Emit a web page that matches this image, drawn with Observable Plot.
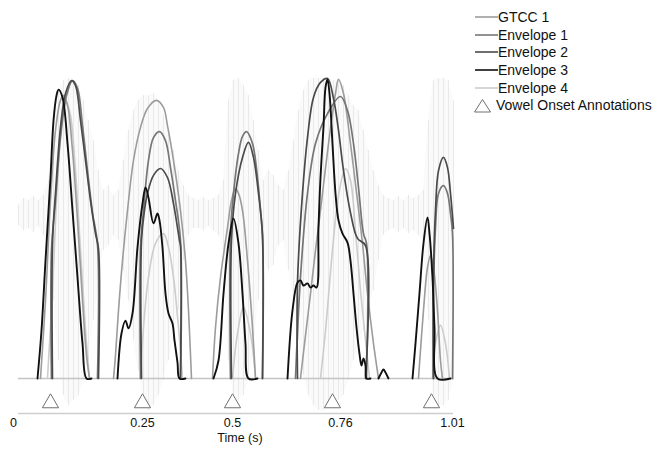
<!DOCTYPE html>
<html>
<head>
<meta charset="utf-8">
<script src="https://cdn.jsdelivr.net/npm/d3@7"></script>
<script src="https://cdn.jsdelivr.net/npm/@observablehq/plot@0.6"></script>
<style>
  body { margin: 0; background: #fff; }
  #wrap { position: relative; width: 659px; height: 449px; font-family: "Liberation Sans", Arial, sans-serif; }
  #legend { position: absolute; left: 474px; top: 8px; font-size: 14px; color: #111; }
  #legend .row { display: flex; align-items: center; height: 17.7px; white-space: nowrap; }
  #legend svg { display: block; }
</style>
</head>
<body>
<div id="wrap"><div id="legend"></div></div>
<script>
// Time axis (s): where the tick labels sit, and what they read
const tickTimes = [-0.0116, 0.2879, 0.4969, 0.7476, 1.0077];
const tickLabels = ["0", "0.25", "0.5", "0.76", "1.01"];

// Annotated vowel onsets (s)
const onsets = [0.0743, 0.2879, 0.4969, 0.7290, 0.9589];

// Speech waveform, peak amplitude above / below its centre, sampled along time (s)
const waveTime = [0,0.0116,0.0232,0.0348,0.0464,0.0580,0.0697,0.0813,0.0929,0.1045,0.1161,0.1277,0.1393,0.1509,0.1625,0.1741,0.1857,0.1974,0.2090,0.2206,0.2322,0.2438,0.2554,0.2670,0.2786,0.2902,0.3018,0.3134,0.3251,0.3367,0.3483,0.3599,0.3715,0.3831,0.3947,0.4063,0.4179,0.4295,0.4411,0.4528,0.4644,0.4760,0.4876,0.4992,0.5108,0.5224,0.5340,0.5456,0.5572,0.5688,0.5805,0.5921,0.6037,0.6153,0.6269,0.6385,0.6501,0.6617,0.6733,0.6849,0.6965,0.7081,0.7198,0.7314,0.7430,0.7546,0.7662,0.7778,0.7894,0.8010,0.8126,0.8242,0.8358,0.8475,0.8591,0.8707,0.8823,0.8939,0.9055,0.9171,0.9287,0.9403,0.9519,0.9635,0.9752,0.9868,0.9984,1.0100];
const waveHi = [0.027,0.05,0.043,0.057,0.043,0.06,0.11,0.31,0.41,0.443,0.45,0.443,0.427,0.377,0.31,0.243,0.143,0.077,0.093,0.06,0.077,0.177,0.277,0.343,0.377,0.393,0.393,0.4,0.377,0.327,0.277,0.21,0.143,0.093,0.06,0.05,0.043,0.053,0.043,0.05,0.06,0.11,0.377,0.443,0.45,0.427,0.393,0.31,0.21,0.11,0.143,0.127,0.093,0.077,0.143,0.243,0.343,0.41,0.443,0.45,0.45,0.45,0.45,0.443,0.443,0.427,0.393,0.36,0.343,0.277,0.21,0.143,0.093,0.06,0.05,0.043,0.057,0.043,0.06,0.05,0.06,0.077,0.31,0.443,0.45,0.45,0.443,0.377];
const waveLo = [-0.04,-0.057,-0.05,-0.063,-0.043,-0.073,-0.107,-0.29,-0.49,-0.607,-0.64,-0.623,-0.607,-0.557,-0.49,-0.357,-0.257,-0.123,-0.107,-0.073,-0.09,-0.19,-0.29,-0.423,-0.523,-0.623,-0.657,-0.64,-0.607,-0.557,-0.49,-0.423,-0.323,-0.157,-0.073,-0.05,-0.05,-0.057,-0.043,-0.057,-0.073,-0.123,-0.49,-0.607,-0.623,-0.607,-0.557,-0.457,-0.29,-0.157,-0.19,-0.173,-0.107,-0.09,-0.19,-0.29,-0.423,-0.54,-0.607,-0.64,-0.657,-0.657,-0.64,-0.623,-0.623,-0.607,-0.557,-0.49,-0.457,-0.39,-0.323,-0.257,-0.157,-0.073,-0.057,-0.05,-0.063,-0.05,-0.067,-0.057,-0.073,-0.09,-0.357,-0.607,-0.64,-0.64,-0.623,-0.557];

// Normalised feature curves: one [time, value] run per voiced stretch
const gtcc1 = [
  [[0.0511,0],[0.0627,0.26],[0.0743,0.593],[0.0859,0.827],[0.0975,0.927],[0.1045,0.943],[0.1138,0.91],[0.1254,0.76],[0.1370,0.527],[0.1486,0.26],[0.1579,0.077],[0.1648,0]],
  [[0.2206,0],[0.2252,0.077],[0.2322,0.227],[0.2415,0.393],[0.2531,0.56],[0.2670,0.727],[0.2833,0.837],[0.2995,0.9],[0.3204,0.927],[0.3367,0.903],[0.3459,0.843],[0.3599,0.727],[0.3761,0.56],[0.3877,0.393],[0.3947,0.227],[0.4017,0]],
  [[0.4504,0],[0.4574,0.17],[0.4690,0.337],[0.4853,0.503],[0.4945,0.593],[0.5038,0.633],[0.5108,0.617],[0.5201,0.56],[0.5317,0.393],[0.5433,0.17],[0.5503,0]],
  [[0.6547,0],[0.6663,0.143],[0.6780,0.283],[0.6896,0.427],[0.7012,0.56],[0.7198,0.783],[0.7360,0.95],[0.7430,0.997],[0.7546,0.95],[0.7708,0.783],[0.7871,0.593],[0.7987,0.45],[0.8103,0.283],[0.8242,0.117],[0.8358,0]],
  [[0.9287,0],[0.9403,0.227],[0.9496,0.37],[0.9566,0.41],[0.9635,0.37],[0.9728,0.227],[0.9798,0.06],[0.9844,0]]
];
const envelope1 = [
  [[0.0766,0],[0.0766,0.427],[0.0859,0.593],[0.0975,0.803],[0.1114,0.943],[0.1254,0.993],[0.1370,0.967],[0.1486,0.843],[0.1602,0.693],[0.1718,0.553],[0.1834,0.447],[0.1834,0]],
  [[0.2833,0],[0.2833,0.437],[0.2902,0.56],[0.3018,0.727],[0.3134,0.803],[0.3274,0.823],[0.3413,0.793],[0.3529,0.703],[0.3645,0.593],[0.3761,0.46],[0.3761,0]],
  [[0.4922,0],[0.4922,0.483],[0.4992,0.617],[0.5108,0.75],[0.5201,0.807],[0.5294,0.823],[0.5433,0.783],[0.5549,0.67],[0.5619,0.56],[0.5665,0.477],[0.5665,0]],
  [[0.6431,0],[0.6547,0.337],[0.6710,0.617],[0.6896,0.783],[0.7174,0.883],[0.7476,0.94],[0.7639,0.893],[0.7778,0.783],[0.7894,0.637],[0.8010,0.483],[0.8080,0.45],[0.8080,0]],
  [[0.9635,0],[0.9635,0.283],[0.9682,0.503],[0.9752,0.617],[0.9868,0.643],[0.9961,0.617],[1.0030,0.55],[1.0077,0.483],[1.0077,0]]
];
const envelope2 = [
  [[0.0789,0],[0.0789,0.453],[0.0859,0.617],[0.0975,0.837],[0.1091,0.95],[0.1231,0.993],[0.1323,0.977],[0.1440,0.86],[0.1556,0.727],[0.1672,0.593],[0.1788,0.483],[0.1857,0.433],[0.1857,0]],
  [[0.2856,0],[0.2856,0.46],[0.2925,0.56],[0.2995,0.617],[0.3134,0.677],[0.3297,0.7],[0.3459,0.67],[0.3599,0.583],[0.3738,0.46],[0.3761,0.443],[0.3761,0]],
  [[0.4945,0],[0.4945,0.46],[0.5038,0.617],[0.5201,0.737],[0.5340,0.787],[0.5456,0.737],[0.5572,0.617],[0.5665,0.477],[0.5665,0]],
  [[0.6478,0],[0.6478,0.32],[0.6594,0.617],[0.6710,0.803],[0.6849,0.937],[0.7012,0.987],[0.7174,1.0],[0.7314,0.933],[0.7430,0.827],[0.7546,0.693],[0.7708,0.553],[0.7871,0.467],[0.8057,0.443],[0.8057,0]],
  [[0.9635,0],[0.9635,0.337],[0.9682,0.56],[0.9752,0.693],[0.9868,0.737],[0.9961,0.703],[1.0030,0.617],[1.0100,0.5]]
];
const envelope3 = [
  [[0.0441,0],[0.0534,0.16],[0.0627,0.393],[0.0743,0.67],[0.0813,0.86],[0.0882,0.943],[0.0929,0.963],[0.1022,0.937],[0.1138,0.783],[0.1254,0.56],[0.1370,0.337],[0.1486,0.117],[0.1579,0],[0.1695,0]],
  [[0.2299,0],[0.2391,0.15],[0.2484,0.193],[0.2554,0.167],[0.2647,0.217],[0.2763,0.437],[0.2879,0.583],[0.2949,0.637],[0.3018,0.603],[0.3134,0.517],[0.3227,0.55],[0.3274,0.527],[0.3343,0.437],[0.3413,0.283],[0.3483,0.217],[0.3576,0.183],[0.3622,0.127],[0.3692,0.053],[0.3738,0],[0.3877,0]],
  [[0.4528,0],[0.4644,0.06],[0.4760,0.283],[0.4876,0.45],[0.4992,0.533],[0.5108,0.45],[0.5201,0.283],[0.5270,0.117],[0.5340,0],[0.5549,0]],
  [[0.6246,0],[0.6362,0.227],[0.6478,0.32],[0.6547,0.327],[0.6617,0.31],[0.6710,0.317],[0.6780,0.303],[0.6849,0.31],[0.6919,0.303],[0.6965,0.503],[0.7012,0.67],[0.7081,0.837],[0.7128,0.97],[0.7174,0.997],[0.7221,0.95],[0.7290,0.783],[0.7360,0.617],[0.7430,0.527],[0.7523,0.483],[0.7639,0.453],[0.7708,0.393],[0.7778,0.283],[0.7848,0.17],[0.7917,0.083],[0.7964,0.043],[0.8010,0.067],[0.8057,0.043],[0.8080,0],[0.8173,0]],
  [[0.8358,0],[0.8428,0.02],[0.8474,0.03],[0.8521,0.02],[0.8591,0]],
  [[0.9148,0],[0.9218,0.117],[0.9310,0.283],[0.9403,0.45],[0.9496,0.537],[0.9543,0.483],[0.9612,0.337],[0.9659,0.17],[0.9728,0],[1.0030,0]]
];
const envelope4 = [
  [[0.0673,0],[0.0789,0.293],[0.0906,0.66],[0.1022,0.877],[0.1114,0.92],[0.1207,0.877],[0.1323,0.693],[0.1440,0.427],[0.1556,0.16],[0.1648,0]],
  [[0.2833,0],[0.2902,0.17],[0.3018,0.337],[0.3181,0.45],[0.3367,0.483],[0.3483,0.437],[0.3599,0.337],[0.3715,0.17],[0.3808,0]],
  [[0.4969,0],[0.5085,0.15],[0.5224,0.237],[0.5387,0.15],[0.5503,0]],
  [[0.7012,0],[0.7128,0.16],[0.7290,0.427],[0.7430,0.61],[0.7592,0.7],[0.7708,0.66],[0.7824,0.493],[0.7940,0.293],[0.8057,0.127],[0.8150,0]],
  [[0.9612,0],[0.9682,0.117],[0.9798,0.177],[0.9914,0.117],[1.0007,0]]
];

// Series styling, in legend order
const series = [
  {name: "GTCC 1", runs: gtcc1, color: "#9c9c9c", width: 1.6},
  {name: "Envelope 1", runs: envelope1, color: "#767676", width: 1.7},
  {name: "Envelope 2", runs: envelope2, color: "#4a4a4a", width: 1.7},
  {name: "Envelope 3", runs: envelope3, color: "#111111", width: 1.9},
  {name: "Envelope 4", runs: envelope4, color: "#cccccc", width: 1.6}
];
const onsetLabel = "Vowel Onset Annotations";

// Vertical placement of the waveform centre, onset markers and time axis (in curve units)
const waveCenter = 0.55;
const onsetLevel = -0.082;
const axisLevel = -0.117;

const wave = waveTime.map((t, i) => ({t, hi: waveCenter + waveHi[i], lo: waveCenter + waveLo[i]}));
const toRows = (runs) => runs.flatMap((run, k) => run.map(([t, v]) => ({t, v, k})));

// Draw lighter curves first so the dark envelopes stay on top
const drawOrder = [4, 0, 1, 2, 3];

const chart = Plot.plot({
  width: 659,
  height: 449,
  marginLeft: 18,
  marginRight: 206,
  marginTop: 20,
  marginBottom: 36,
  style: {fontFamily: "'Liberation Sans', Arial, sans-serif", background: "white"},
  x: {domain: [0, 1.01], axis: null},
  y: {domain: [0, 1], range: [378, 78], axis: null},
  marks: [
    Plot.areaY(wave, {x: "t", y1: "lo", y2: "hi", fill: "#fafafa"}),
    Plot.ruleX(wave, {x: "t", y1: "lo", y2: "hi", stroke: "#e9e9e9", strokeWidth: 1}),
    Plot.ruleY([0], {stroke: "#c4c4c4", strokeWidth: 1.6}),
    ...drawOrder.map(i => Plot.line(toRows(series[i].runs), {
      x: "t", y: "v", z: "k",
      stroke: series[i].color, strokeWidth: series[i].width,
      curve: "catmull-rom"
    })),
    Plot.ruleY([axisLevel], {stroke: "#cdcdcd", strokeWidth: 1.5}),
    Plot.dot(onsets, {x: d => d, y: onsetLevel, symbol: "triangle", r: 6, stroke: "#707070", fill: "white", strokeWidth: 1}),
    Plot.text(tickTimes, {x: d => d, text: (d, i) => tickLabels[i], frameAnchor: "bottom", dy: 13, fontSize: 12.5, fill: "#111"}),
    Plot.text(["Time (s)"], {frameAnchor: "bottom", dx: 4, dy: 28, fontSize: 12.5, fill: "#111"})
  ]
});

const wrap = document.getElementById("wrap");
wrap.insertBefore(chart, wrap.firstChild);

// Legend
const legend = d3.select("#legend");
series.forEach(s => {
  const row = legend.append("div").attr("class", "row");
  const sw = row.append("svg").attr("width", 24).attr("height", 10);
  sw.append("line").attr("x1", 1).attr("x2", 24).attr("y1", 5).attr("y2", 5)
    .attr("stroke", s.color).attr("stroke-width", 1.6);
  row.append("span").text(s.name);
});
const tri = legend.append("div").attr("class", "row");
const ts = tri.append("svg").attr("width", 18).attr("height", 15).style("margin-right", "4px");
ts.append("polygon").attr("points", "8.5,1.5 16.5,14 0.5,14")
  .attr("fill", "white").attr("stroke", "#707070").attr("stroke-width", 1);
tri.append("span").text(onsetLabel);
</script>
</body>
</html>
